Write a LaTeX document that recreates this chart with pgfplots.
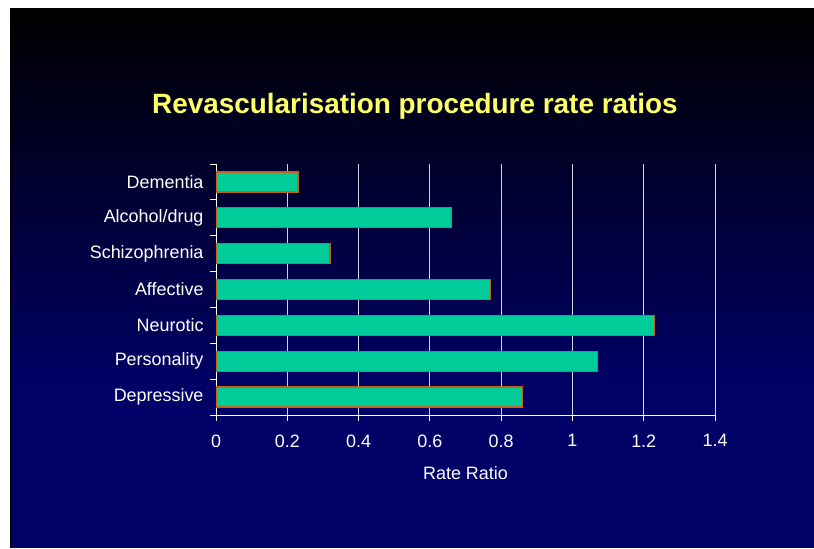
\documentclass[border=0pt]{standalone}
\usepackage{pgfplots}
\pgfplotsset{compat=1.18}
\usepackage{fontspec}
\setmainfont{Liberation Sans}
\definecolor{navyc}{RGB}{0,0,102}
\definecolor{barfill}{RGB}{0,204,153}
\definecolor{barborder}{RGB}{190,100,20}
\definecolor{titlecol}{RGB}{255,255,102}
\definecolor{gridc}{RGB}{210,210,230}
\pgfdeclareverticalshading{bgshade}{100bp}{color(0bp)=(navyc); color(25bp)=(navyc); color(40bp)=(navyc); color(75bp)=(black); color(100bp)=(black)}
\begin{document}
\begin{tikzpicture}[x=1bp,y=1bp]
\fill[white] (0,0) rectangle (814,548);
\shade[shading=bgshade] (10,0) rectangle (814,539);
\draw[black, line width=1bp] (10.5,0) -- (10.5,539);
\node[anchor=base, text=titlecol, font=\fontsize{28}{32}\selectfont\bfseries] at (415,434) {Revascularisation procedure rate ratios};
\coordinate (O) at (216,133);
\begin{axis}[
  at={(O)}, anchor=south west,
  scale only axis, width=499bp, height=251bp,
  xmin=0, xmax=1.4, ymin=-0.5, ymax=6.5,
  xbar, bar width=20bp,
  axis x line*=bottom, axis y line*=left,
  axis line style={white, line width=0.8bp},
  xtick={0,0.2,0.4,0.6,0.8,1,1.2,1.4},
  xticklabels={0,0.2,0.4,0.6,0.8,1,1.2,1.4},
  ytick={-0.5,0.5,1.5,2.5,3.5,4.5,5.5,6.5},
  yticklabels={},
  extra y ticks={0,1,2,3,4,5,6},
  extra y tick labels={Depressive,Personality,Neurotic,Affective,Schizophrenia,Alcohol/drug,Dementia},
  extra y tick style={tick style={draw=none}},
  tick align=outside, major tick length=6bp,
  tick style={white, line width=0.8bp},
  xmajorgrids, grid style={gridc, line width=0.8bp},
  ticklabel style={text=white, font=\fontsize{18}{20}\selectfont},
  yticklabel style={xshift=-3bp},
  xticklabel style={yshift=-10bp},
  xlabel={Rate Ratio},
  xlabel style={text=white, font=\fontsize{18}{20}\selectfont, yshift=-12bp},
]
\addplot[fill=barfill, draw=barborder, line width=1.4bp] coordinates {(0.86,0) (1.07,1) (1.23,2) (0.77,3) (0.32,4) (0.66,5) (0.23,6)};
\end{axis}
\end{tikzpicture}
\end{document}
